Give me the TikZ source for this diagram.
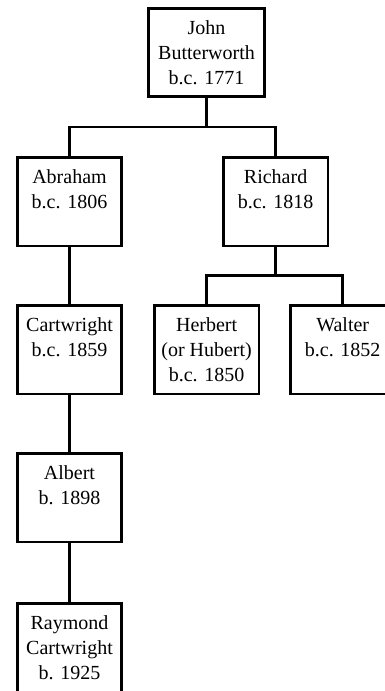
\documentclass[tikz,border=0pt]{standalone}
\usepackage{fontspec}
\setmainfont{Liberation Serif}
\usetikzlibrary{positioning}
\tikzstyle{person}=[rectangle,draw=black,line width=2.6pt,minimum width=104.5pt,
minimum height=88.5pt,align=center,font=\fontsize{20pt}{25pt}\selectfont]
\tikzstyle{root}=[person,minimum width=116.5pt]
\tikzstyle{line}=[line width=2.6pt]

\begin{document}
\begin{tikzpicture}[x=1pt,y=1pt,node distance=57pt]
            \useasboundingbox (0,0) rectangle (385,-691);

            % FIRST GENERATION

            \node[root] (john) at (206.5,-52.5) {John\\Butterworth\\b.c. 1771};

            % SECOND GENERATION

            \node[person, below=58pt of john, xshift=-137pt] (abraham) {Abraham\\b.c. 1806\\~};
            \node[person, right=99pt of abraham]              (richard) {Richard\\b.c. 1818\\~};

            \coordinate[below=29pt of john] (jbar);
            \draw[line] (john.south) -- (jbar);
            \draw[line] (abraham.north) |- (jbar) -| (richard.north);

            % ABRAHAM LINE

            \node[person, below=57pt of abraham]     (cartwright) {Cartwright\\b.c. 1859\\~};
            \node[person, below=57pt of cartwright]  (albert)  {Albert\\b. 1898\\~};
            \node[person, below=59pt of albert]      (raymond) {Raymond\\Cartwright\\b. 1925};

            \draw[line] (abraham) -- (cartwright);
            \draw[line] (cartwright) -- (albert);
            \draw[line] (albert) -- (raymond);

            % RICHARD LINE

            \node[person, below=57pt of richard, xshift=-69pt] (herbert) {Herbert\\(or Hubert)\\b.c. 1850};
            \node[person, right=29pt of herbert]                (walter)  {Walter\\b.c. 1852\\~};

            \coordinate[below=28.5pt of richard] (rbar);
            \draw[line] (richard.south) -- (rbar);
            \draw[line] (herbert.north) |- (rbar) -| (walter.north);

        \end{tikzpicture}
\end{document}
